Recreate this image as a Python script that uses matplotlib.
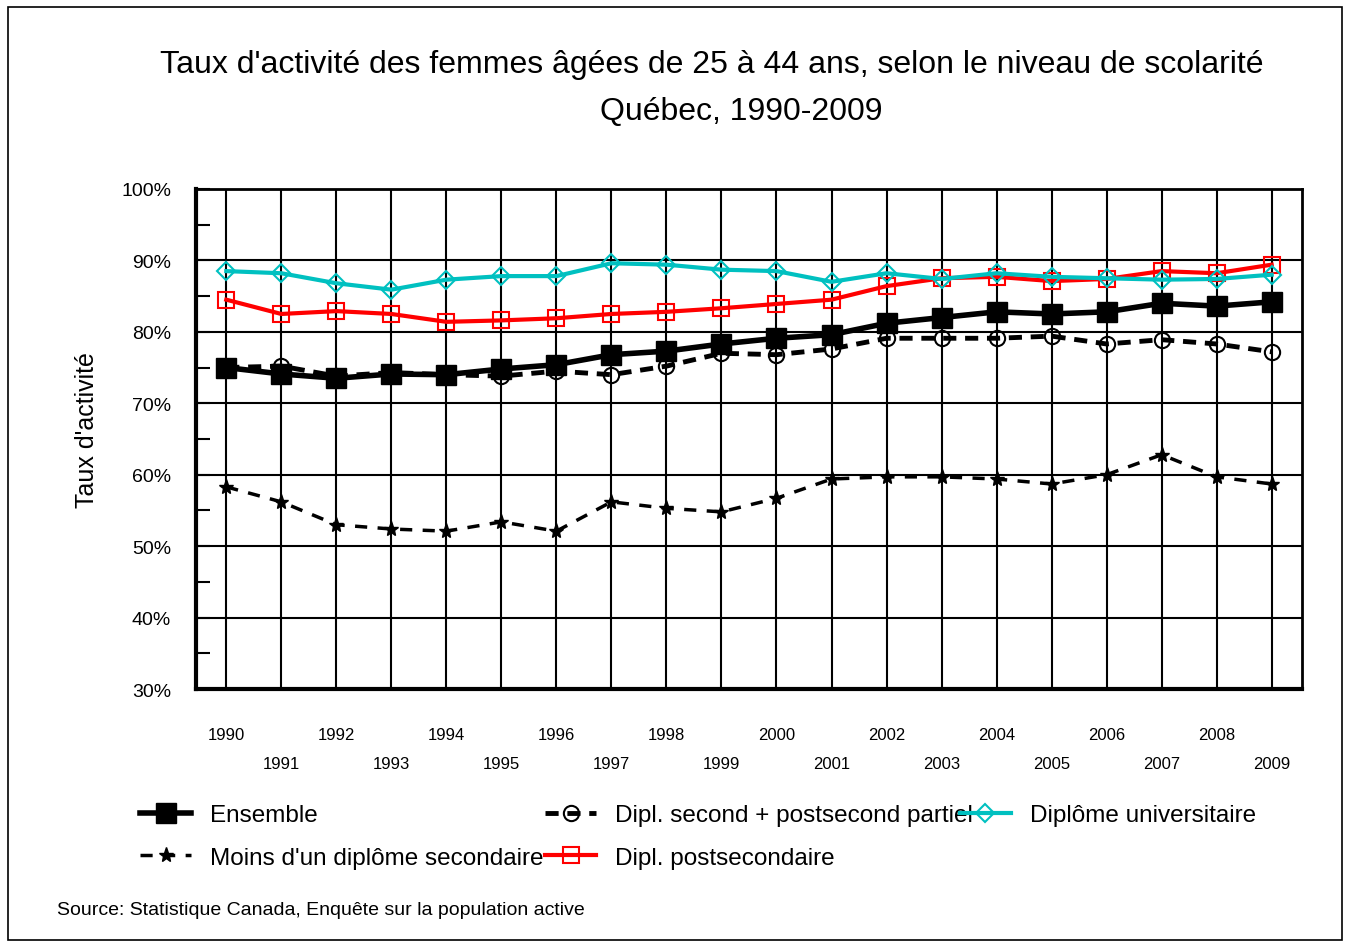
import matplotlib
matplotlib.use("Agg")
import matplotlib.pyplot as plt
from matplotlib.patches import Rectangle
from matplotlib.ticker import FuncFormatter, MultipleLocator

plt.rcParams['font.family'] = ['Liberation Sans Narrow', 'Liberation Sans', 'DejaVu Sans']

annees = list(range(1990, 2010))

ensemble = [75.0, 74.1, 73.5, 74.1, 74.0, 74.8, 75.4, 76.8, 77.3, 78.3,
            79.1, 79.6, 81.2, 82.0, 82.8, 82.5, 82.8, 84.0, 83.6, 84.2]
moins_sec = [58.3, 56.2, 53.0, 52.4, 52.1, 53.4, 52.1, 56.2, 55.3, 54.8,
             56.7, 59.4, 59.7, 59.7, 59.4, 58.7, 60.0, 62.8, 59.7, 58.7]
dipl_sec = [75.0, 75.2, 73.8, 74.3, 74.0, 73.8, 74.5, 74.0, 75.2, 77.0,
            76.8, 77.6, 79.1, 79.1, 79.1, 79.4, 78.3, 78.9, 78.3, 77.2]
postsec = [84.5, 82.5, 82.9, 82.5, 81.4, 81.6, 81.9, 82.5, 82.8, 83.3,
           83.9, 84.5, 86.4, 87.5, 87.7, 87.1, 87.4, 88.5, 88.2, 89.4]
univ = [88.5, 88.2, 86.8, 85.9, 87.3, 87.8, 87.8, 89.6, 89.4, 88.7,
        88.5, 87.0, 88.2, 87.4, 88.2, 87.7, 87.5, 87.3, 87.4, 88.0]

noms = ["Ensemble", "Moins d'un diplôme secondaire", "Dipl. second + postsecond partiel",
        "Dipl. postsecondaire", "Diplôme universitaire"]

fig = plt.figure(figsize=(13.5, 9.45), dpi=100)
fig.patches.append(Rectangle((0.006, 0.004), 0.988, 0.988, transform=fig.transFigure,
                             fill=False, edgecolor='black', linewidth=1.2))

ax = fig.add_axes([0.1452, 0.2698, 0.8192, 0.5292])
x = list(range(len(annees)))

l1, = ax.plot(x, ensemble, color='black', lw=4, marker='s', ms=14, zorder=5)
l2, = ax.plot(x, moins_sec, color='black', lw=2.5, ls=(0, (3.5, 3)), marker='*', ms=11,
              zorder=4)
l3, = ax.plot(x, dipl_sec, color='black', lw=3.5, ls=(0, (2.7, 1.8)), marker='o', ms=11,
              mfc='none', mew=1.5, zorder=4)
l4, = ax.plot(x, postsec, color='#ff0000', lw=3, marker='s', ms=12, mfc='none',
              mew=1.5, zorder=3)
l5, = ax.plot(x, univ, color='#00c0c0', lw=3, marker='D', ms=9, mfc='none',
              mew=1.5, zorder=3)

ax.set_xlim(-0.55, len(annees) - 0.45)
ax.set_ylim(30, 100)
ax.set_xticks(x)
ax.set_xticklabels([])
for i, a in enumerate(annees):
    ax.text(i, -0.09 if i % 2 == 0 else -0.148, str(a), transform=ax.get_xaxis_transform(),
            ha='center', va='center', fontsize=12)
ax.tick_params(axis='x', length=0)
ax.yaxis.set_major_locator(MultipleLocator(10))
ax.yaxis.set_minor_locator(MultipleLocator(5))
ax.yaxis.set_major_formatter(FuncFormatter(lambda v, p: f"{v:.0f}%"))
ax.tick_params(axis='y', which='both', direction='in', length=10, width=1.5,
               labelsize=14, pad=18)
ax.grid(True, which='major', color='black', lw=1.5)
ax.set_axisbelow(True)
for s in ['left', 'bottom']:
    ax.spines[s].set_linewidth(3)
for s in ['top', 'right']:
    ax.spines[s].set_linewidth(2)
ax.set_ylabel("Taux d'activité", fontsize=18)
ax.yaxis.set_label_coords(-0.0877, 0.52)

fig.text(0.527, 0.931, "Taux d'activité des femmes âgées de 25 à 44 ans, selon le niveau de scolarité",
         ha='center', va='center', fontsize=23)
fig.text(0.549, 0.8815, "Québec, 1990-2009", ha='center', va='center', fontsize=23)

# légende en trois colonnes placées à la main
colonnes = [([l1, l2], noms[0:2], 0.1037),
            ([l3, l4], noms[2:4], 0.4037),
            ([l5], noms[4:5], 0.711)]
for poignees, textes, xpos in colonnes:
    fig.legend(poignees, textes, loc='upper left', bbox_to_anchor=(xpos, 0.148),
               frameon=False, fontsize=17.5, handlelength=2.1, handletextpad=0.8,
               labelspacing=0.84, borderpad=0, borderaxespad=0)

fig.text(0.042, 0.037, "Source: Statistique Canada, Enquête sur la population active",
         fontsize=14, ha='left', va='center')

fig.savefig("out.png", dpi=100)
